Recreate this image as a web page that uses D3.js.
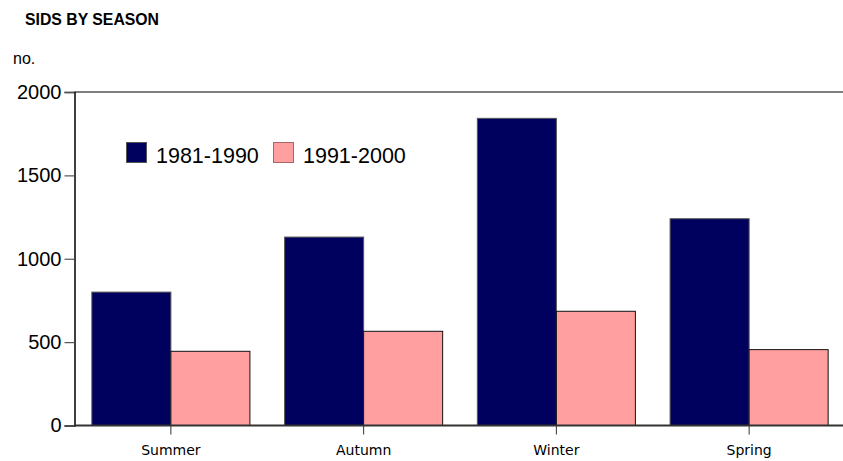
<!DOCTYPE html>
<html lang="en">
  <head>
    <meta charset="UTF-8" />
    <title>SIDS by season</title>
    <style>
      body { margin: 0; background: #fff; }
      svg { display: block; }
    </style>
    <script src="https://d3js.org/d3.v7.min.js"></script>
  </head>
  <body>
    <div id="svg-container"></div>
    <script>
      // data
      const seasons = ["Summer", "Autumn", "Winter", "Spring"];
      const seriesNames = ["1981-1990", "1991-2000"];
      const values1981 = [800, 1130, 1842, 1240];
      const values1991 = [445, 565, 685, 455];
      const yTicks = [0, 500, 1000, 1500, 2000];

      const colors = ["#00005e", "#ff9f9f"];
      const strokes = ["#555", "#111"];

      const width = 843, height = 461;
      const plotLeft = 74.5, plotRight = 845.5, plotTop = 92, plotBottom = 425.5;

      const svg = d3
        .select("#svg-container")
        .append("svg")
        .attr("width", width)
        .attr("height", height);

      // title + unit
      svg.append("text")
        .attr("x", 25).attr("y", 25)
        .text("SIDS BY SEASON")
        .attr("font-family", "Liberation Sans, Arial, sans-serif")
        .attr("font-weight", "bold")
        .attr("font-size", "15.8px")
        .attr("fill", "#000");

      svg.append("text")
        .attr("x", 13).attr("y", 64)
        .text("no.")
        .attr("font-family", "Liberation Sans, Arial, sans-serif")
        .attr("font-size", "16px")
        .attr("fill", "#000");

      const x0 = d3.scaleBand().domain(seasons).range([plotLeft, plotRight])
        .paddingInner(0.18).paddingOuter(0.09);
      const x1 = d3.scaleBand().domain(seriesNames).range([0, x0.bandwidth()]);
      const y = d3.scaleLinear().domain([0, 2000]).range([plotBottom, plotTop]);

      // frame: top line
      svg.append("line")
        .attr("x1", plotLeft).attr("x2", width)
        .attr("y1", y(2000)).attr("y2", y(2000))
        .attr("stroke", "#000").attr("stroke-width", 1.2);

      // y axis
      const yAxis = svg.append("g")
        .attr("transform", `translate(${plotLeft},0)`)
        .call(d3.axisLeft(y).tickValues(yTicks).tickSize(10).tickPadding(3).tickFormat(d3.format("d")));
      yAxis.select(".domain").attr("stroke", "#000").attr("stroke-width", 1.5);
      yAxis.selectAll(".tick line").attr("stroke", "#555").attr("stroke-width", 1.2);
      yAxis.selectAll(".tick text")
        .attr("font-family", "Liberation Sans, Arial, sans-serif")
        .attr("font-size", "20px")
        .attr("fill", "#000");

      // bars
      const series = [values1981, values1991];
      const groups = svg.append("g");
      seasons.forEach(function (s, i) {
        series.forEach(function (vals, k) {
          groups.append("rect")
            .attr("x", x0(s) + x1(seriesNames[k]))
            .attr("y", y(vals[i]))
            .attr("width", x1.bandwidth())
            .attr("height", y(0) - y(vals[i]))
            .attr("fill", colors[k])
            .attr("stroke", strokes[k])
            .attr("stroke-width", 1);
        });
      });

      // x axis
      const xAxis = svg.append("g")
        .attr("transform", `translate(0,${plotBottom})`)
        .call(d3.axisBottom(x0).tickSize(9).tickPadding(11));
      xAxis.select(".domain").remove();
      xAxis.selectAll(".tick line").attr("stroke", "#333").attr("stroke-width", 1);
      xAxis.selectAll(".tick text")
        .attr("font-family", "DejaVu Sans, Verdana, sans-serif")
        .attr("font-size", "14px")
        .attr("fill", "#000");

      svg.append("line")
        .attr("x1", plotLeft).attr("x2", width)
        .attr("y1", y(0)).attr("y2", y(0))
        .attr("stroke", "#333").attr("stroke-width", 2.2);

      // legend
      const legendX = [126, 273];
      seriesNames.forEach(function (name, k) {
        svg.append("rect")
          .attr("x", legendX[k] + 0.5).attr("y", 142.5)
          .attr("width", 20).attr("height", 20)
          .attr("fill", colors[k])
          .attr("stroke", k === 0 ? "#555" : "#a66")
          .attr("stroke-width", 1);
        svg.append("text")
          .attr("x", legendX[k] + 30).attr("y", 163)
          .text(name)
          .attr("font-family", "Liberation Sans, Arial, sans-serif")
          .attr("font-size", "21.5px")
          .attr("fill", "#000");
      });
    </script>
  </body>
</html>
